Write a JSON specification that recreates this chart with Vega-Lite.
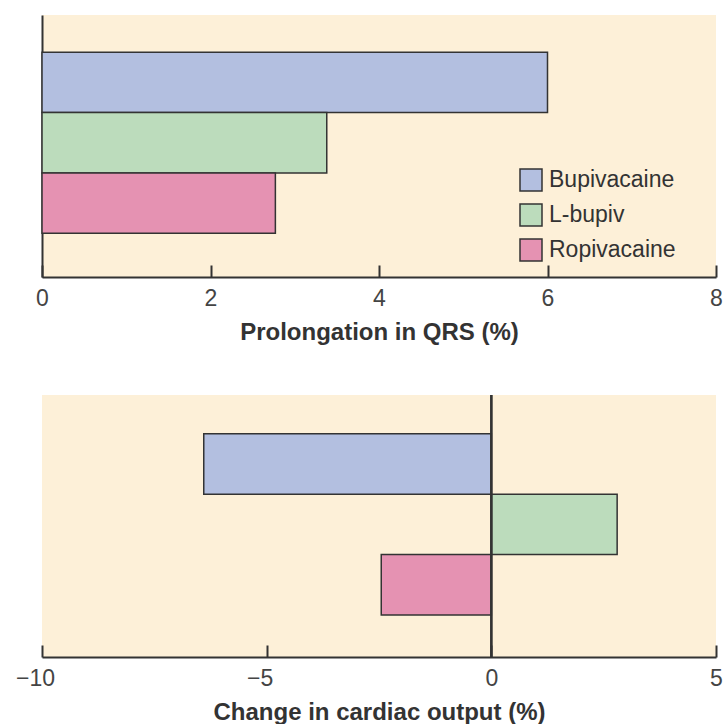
{
  "$schema": "https://vega.github.io/schema/vega-lite/v6.json",
  "background": "white",
  "padding": {"left": 15, "top": 15, "right": 0, "bottom": 0},
  "spacing": 50,
  "config": {
    "font": "Liberation Sans",
    "view": {"fill": "#fdf0d8", "stroke": null},
    "axis": {
      "domainColor": "#333333", "domainWidth": 2,
      "tickColor": "#333333", "tickWidth": 2,
      "labelFont": "Liberation Sans", "labelFontSize": 23, "labelColor": "#444444", "labelFlush": false,
      "titleFont": "Liberation Sans", "titleFontSize": 24, "titleFontWeight": "bold", "titleColor": "#333333",
      "grid": false
    }
  },
  "datasets": {
    "qrs": [
      {"drug": "Bupivacaine", "value": 6.0},
      {"drug": "L-bupiv", "value": 3.38},
      {"drug": "Ropivacaine", "value": 2.77}
    ],
    "co": [
      {"drug": "Bupivacaine", "value": -6.4},
      {"drug": "L-bupiv", "value": 2.8},
      {"drug": "Ropivacaine", "value": -2.45}
    ]
  },
  "vconcat": [
    {
      "width": 674, "height": 262,
      "data": {"name": "qrs"},
      "mark": {"type": "bar", "stroke": "#333333", "strokeWidth": 1.5},
      "encoding": {
        "y": {"field": "drug", "type": "nominal", "sort": ["Bupivacaine", "L-bupiv", "Ropivacaine"],
              "scale": {"paddingInner": 0, "paddingOuter": 0.67, "align": 0.46},
              "axis": {"title": null, "labels": false, "ticks": false, "domain": true}},
        "x": {"field": "value", "type": "quantitative",
              "scale": {"domain": [0, 8], "nice": false},
              "axis": {"title": "Prolongation in QRS (%)", "values": [0, 2, 4, 6, 8], "tickSize": -12, "labelPadding": 22, "titlePadding": 10, "format": "d"}},
        "color": {"field": "drug", "type": "nominal",
                  "scale": {"domain": ["Bupivacaine", "L-bupiv", "Ropivacaine"], "range": ["#b3bfe0", "#bcdcbc", "#e592b2"]},
                  "legend": {"title": null, "orient": "none", "legendX": 477, "legendY": 153,
                             "symbolType": "square", "symbolSize": 484, "symbolStrokeColor": "#333333", "symbolStrokeWidth": 1.5, "symbolOpacity": 1,
                             "labelFontSize": 23, "labelFont": "Liberation Sans", "labelColor": "#333333", "labelOffset": 6, "rowPadding": 7}}
      }
    },
    {
      "width": 674, "height": 262,
      "data": {"name": "co"},
      "layer": [
        {
          "mark": {"type": "bar", "stroke": "#333333", "strokeWidth": 1.5},
          "encoding": {
            "y": {"field": "drug", "type": "nominal", "sort": ["Bupivacaine", "L-bupiv", "Ropivacaine"],
                  "scale": {"paddingInner": 0, "paddingOuter": 0.67, "align": 0.48},
                  "axis": null},
            "x": {"field": "value", "type": "quantitative",
                  "scale": {"domain": [-10, 5], "nice": false},
                  "axis": {"title": "Change in cardiac output (%)", "values": [-10, -5, 0, 5], "tickSize": -12, "labelPadding": 22, "titlePadding": 10, "format": "d",
                           "labelOffset": {"condition": {"test": "datum.value < 0", "value": -7}, "value": 0}}},
            "color": {"field": "drug", "type": "nominal",
                      "scale": {"domain": ["Bupivacaine", "L-bupiv", "Ropivacaine"], "range": ["#b3bfe0", "#bcdcbc", "#e592b2"]},
                      "legend": null}
          }
        },
        {
          "mark": {"type": "rule", "color": "#333333", "strokeWidth": 2},
          "encoding": {"x": {"datum": 0}}
        }
      ]
    }
  ]
}
